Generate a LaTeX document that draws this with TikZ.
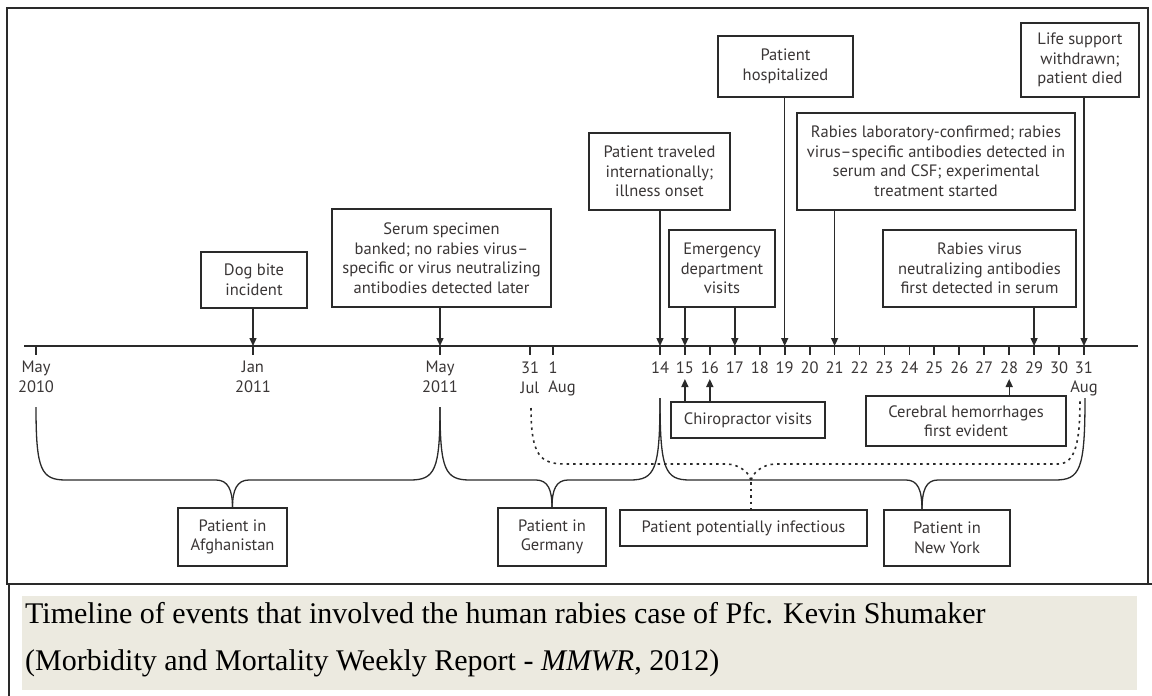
\documentclass[tikz,border=0pt]{standalone}
\usepackage{fontspec}
\setmainfont{Liberation Serif}
\newfontfamily\boxfont{PT Sans}
\usetikzlibrary{arrows.meta}
\definecolor{ln}{HTML}{2A2A2A}
\definecolor{tx}{HTML}{3A3636}
\definecolor{capbg}{HTML}{ECEAE0}
\begin{document}
\begin{tikzpicture}[x=1pt,y=-1pt,
  evbox/.style={draw=ln, line width=1.8pt, inner sep=0pt, align=center, text=tx,
    font=\boxfont\fontsize{16.5}{19.5}\selectfont},
  lbl/.style={inner sep=0pt, align=center, text=tx, font=\boxfont\fontsize{16.5}{19.5}\selectfont},
  arr/.style={draw=ln, line width=1.4pt, -{Triangle[length=8pt,width=7pt]}},
  brace/.style={draw=ln, line width=1.3pt},
  dotbrace/.style={draw=ln, line width=1.6pt, dash pattern=on 2.5pt off 4pt},
  tickmark/.style={draw=ln, line width=1.8pt},
  captext/.style={anchor=base west, inner sep=0pt, text=black, font=\fontsize{30}{30}\selectfont}]
\useasboundingbox (0,0) rectangle (1152,696);
\fill[white] (0,0) rectangle (1152,696);
% frame
\draw[line width=2pt, ln] (7,8) rectangle (1148,584);
\draw[line width=2pt, ln] (1148,584) -- (1152,584);
\draw[line width=2pt, ln] (8.5,584) -- (8.5,696);
% caption
\fill[capbg] (22,596) rectangle (1137,690);
\node[captext] (cap1) at (25,623) {Timeline of events that involved the human rabies case of Pfc. Kevin Shumaker};
\node[captext] (cap2) at (25,670) {(Morbidity and Mortality Weekly Report - \textit{MMWR}, 2012)};
% axis
\coordinate (axL) at (24,346);
\coordinate (axR) at (1138,346);
\draw[line width=2pt, ln] (axL) -- (axR);
\coordinate (tMay10) at (36,346);
\coordinate (tJan11) at (253,346);
\coordinate (tMay11) at (440,346);
\coordinate (tJul31) at (530,346);
\coordinate (tAug1) at (553,346);
\foreach \c in {tMay10,tJan11,tMay11,tJul31,tAug1} {\draw[tickmark] (\c) -- ++(0,9);}
\foreach \d in {14,...,31} {
  \coordinate (t\d) at ({660+(\d-14)*24.94},346);
  \draw[tickmark] (t\d) -- ++(0,9);
  \path (t\d) ++(0,22) node[lbl] (l\d) {\d};
}
\node[lbl] (lMay10) at (36,377) {May\\2010};
\node[lbl] (lJan11) at (253,377) {Jan\\2011};
\node[lbl] (lMay11) at (440,377) {May\\2011};
\node[lbl] (l31j) at (530,368) {31};
\node[lbl] (l1a) at (553,368) {1};
\node[lbl] (lJul) at (530,388) {Jul};
\node[lbl] (lAug) at (562,388) {Aug};
\node[lbl] (lAug31) at (1084,388) {Aug};
% event boxes
\node[evbox, minimum width=106pt, minimum height=56pt] (dog) at (254,280) {Dog bite\\incident};
\node[evbox, minimum width=219pt, minimum height=98pt] (serum) at (441.5,258) {Serum specimen\\banked; no rabies virus–\\specific or virus neutralizing\\antibodies detected later};
\node[evbox, minimum width=141pt, minimum height=77pt] (travel) at (659.5,171.5) {Patient traveled\\internationally;\\illness onset};
\node[evbox, minimum width=135pt, minimum height=61pt] (hosp) at (785.5,66.5) {Patient\\hospitalized};
\node[evbox, minimum width=278pt, minimum height=97pt] (lab) at (936,161.5) {Rabies laboratory-confirmed; rabies\\virus–specific antibodies detected in\\serum and CSF; experimental\\treatment started};
\node[evbox, minimum width=118pt, minimum height=74pt] (life) at (1080,60) {Life support\\withdrawn;\\patient died};
\node[evbox, minimum width=106pt, minimum height=77pt] (ed) at (722,268.5) {Emergency\\department\\visits};
\node[evbox, minimum width=193pt, minimum height=77pt] (neutr) at (979.5,268.5) {Rabies virus\\neutralizing antibodies\\first detected in serum};
\node[evbox, minimum width=154pt, minimum height=36pt] (chiro) at (748,420) {Chiropractor visits};
\node[evbox, minimum width=200pt, minimum height=50pt] (cereb) at (966,421) {Cerebral hemorrhages\\first evident};
\node[evbox, minimum width=109pt, minimum height=58pt] (afgh) at (232.5,537) {Patient in\\Afghanistan};
\node[evbox, minimum width=108pt, minimum height=58pt] (germ) at (552,537) {Patient in\\Germany};
\node[evbox, minimum width=247pt, minimum height=36pt] (infect) at (743.5,528) {Patient potentially infectious};
\node[evbox, minimum width=126pt, minimum height=56pt] (ny) at (947,538) {Patient in\\New York};
% down arrows
\draw[arr] (dog.south -| tJan11) -- (tJan11);
\draw[arr] (serum.south -| tMay11) -- (tMay11);
\draw[arr] (travel.south -| t14) -- (t14);
\draw[arr] (ed.south -| t15) -- (t15);
\draw[arr] (ed.south -| t17) -- (t17);
\draw[arr] (hosp.south -| t19) -- (t19);
\draw[arr] (lab.south -| t21) -- (t21);
\draw[arr] (neutr.south -| t29) -- (t29);
\draw[arr] (life.south -| t31) -- (t31);
% up arrows
\coordinate (u15) at (684.9,379);
\coordinate (u16) at (709.8,379);
\coordinate (u28) at (1009.2,379);
\draw[arr] (chiro.north -| u15) -- (u15);
\draw[arr] (chiro.north -| u16) -- (u16);
\draw[arr] (cereb.north -| u28) -- (u28);
% braces
\coordinate (bA) at (36,407);
\coordinate (bB) at (440,407);
\coordinate (bC) at (660,398);
\coordinate (bD) at (1085,398);
\draw[brace] (bA) .. controls (36,470) and (41,480) .. (66,480) -- (216,480)
  .. controls (228,480) and (232.5,490) .. (afgh.north);
\draw[brace] (afgh.north) .. controls (232.5,490) and (237,480) .. (249,480) -- (410,480)
  .. controls (435,480) and (440,470) .. (bB);
\draw[brace] (bB) .. controls (440,470) and (445,480) .. (470,480) -- (536,480)
  .. controls (548,480) and (552,490) .. (germ.north);
\draw[brace] (germ.north) .. controls (552,490) and (556,480) .. (568,480) -- (630,480)
  .. controls (655,480) and (660,470) .. (bC);
\draw[brace] (bC) .. controls (660,470) and (665,480) .. (690,480) -- (906,480)
  .. controls (918,480) and (922,490) .. (922,510);
\draw[brace] (922,510) .. controls (922,490) and (926,480) .. (938,480) -- (1055,480)
  .. controls (1080,480) and (1085,470) .. (bD);
% dotted brace
\coordinate (dL) at (531,408);
\coordinate (dR) at (1080,400);
\coordinate (dV) at (751,482);
\draw[dotbrace] (dL) .. controls (531,455) and (540,464) .. (565,464) -- (726,464)
  .. controls (740,464) and (751,474) .. (dV)
  .. controls (751,474) and (762,464) .. (776,464) -- (1058,464)
  .. controls (1076,464) and (1080,440) .. (dR);
\draw[dotbrace] (dV) -- (dV |- infect.north);
\end{tikzpicture}
\end{document}
